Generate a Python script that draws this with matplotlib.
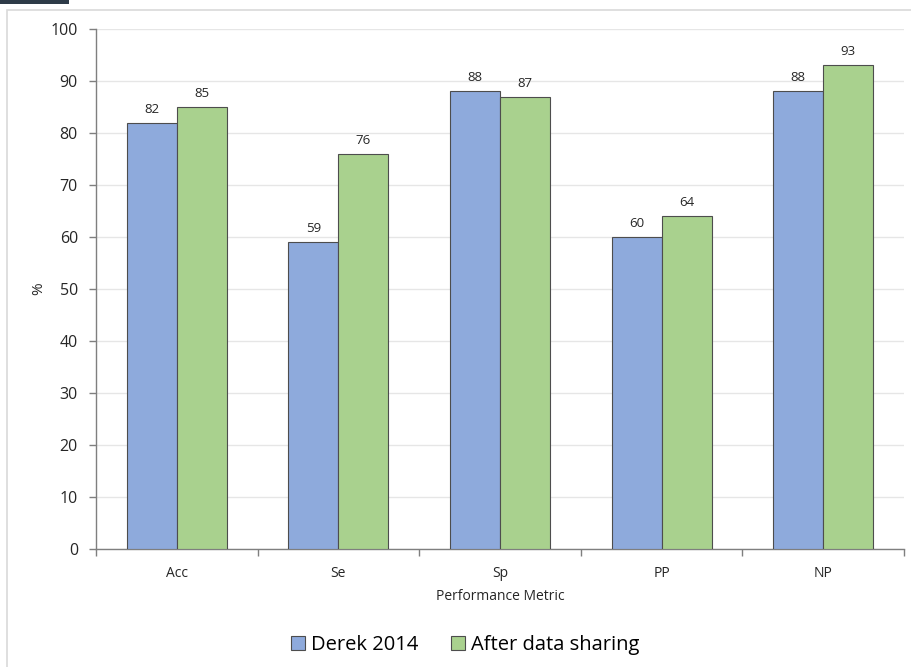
import matplotlib
matplotlib.use("Agg")
import matplotlib.pyplot as plt
from matplotlib.patches import Rectangle
import numpy as np

categories = ["Acc", "Se", "Sp", "PP", "NP"]
derek_2014 = [82, 59, 88, 60, 88]
after_sharing = [85, 76, 87, 64, 93]
series_names = ["Derek 2014", "After data sharing"]

plt.rcParams["font.family"] = ["Open Sans", "DejaVu Sans"]

W, H = 911, 667
fig = plt.figure(figsize=(W / 100, H / 100), dpi=100)

# outer chart frame and the dark tab at the top-left corner
fig.patches.append(Rectangle((7 / W, -0.1), 1.1, 1 - 10 / H + 0.1, transform=fig.transFigure,
                             facecolor="none", edgecolor="#d9d9d9", linewidth=1.2, zorder=-5))
fig.patches.append(Rectangle((0, 1 - 3.5 / H), 69 / W, 3.5 / H, transform=fig.transFigure,
                             facecolor="#2e3b48", edgecolor="none", zorder=-5))

ax = fig.add_axes([96 / W, 1 - 549 / H, (904 - 96) / W, (549 - 29) / H])
ax.set_facecolor("none")
ax.set_zorder(2)

x = np.arange(len(categories))
bw = 0.31
blue = "#8eaadc"
green = "#a9d18e"
b1 = ax.bar(x - bw / 2, derek_2014, bw, color=blue, edgecolor="#4d4d4d", linewidth=0.8,
            label=series_names[0], zorder=3)
b2 = ax.bar(x + bw / 2, after_sharing, bw, color=green, edgecolor="#4d4d4d", linewidth=0.8,
            label=series_names[1], zorder=3)

for bars, vals in ((b1, derek_2014), (b2, after_sharing)):
    for r, v in zip(bars, vals):
        ax.annotate(f"{v}", (r.get_x() + r.get_width() / 2, v), xytext=(0, 5),
                    textcoords="offset points", ha="center", va="bottom",
                    fontsize=9.5, color="#262626")

ax.set_xlim(-0.5, len(categories) - 0.5)
ax.set_ylim(0, 100)
ax.set_yticks(range(0, 101, 10))
ax.yaxis.grid(True, color="#e6e6e6", linewidth=1.0, zorder=0)
ax.set_axisbelow(True)

ax.set_xticks(x)
ax.set_xticklabels(categories)
ax.set_xticks(np.arange(-0.5, len(categories)), minor=True)
ax.tick_params(axis="x", which="major", length=0, pad=12, labelsize=10, labelcolor="#262626")
ax.tick_params(axis="x", which="minor", length=5, width=1, color="#7f7f7f", direction="out")
ax.tick_params(axis="y", length=5, width=1, color="#7f7f7f", labelsize=11.5,
               labelcolor="#262626", pad=8)

for s in ("top", "right"):
    ax.spines[s].set_visible(False)
ax.spines["left"].set_color("#7f7f7f")
ax.spines["bottom"].set_color("#7f7f7f")
ax.spines["left"].set_linewidth(1)
ax.spines["bottom"].set_linewidth(1)

ax.set_xlabel("Performance Metric", fontsize=10, color="#262626", labelpad=6)
ax.set_ylabel("%", fontsize=11, color="#262626", labelpad=3)

fig.legend(handles=[b1, b2], labels=series_names, loc="center", bbox_to_anchor=(465 / W, 1 - 645 / H),
           ncol=2, frameon=False, fontsize=14.5, handlelength=0.7, handleheight=0.7,
           handletextpad=0.3, columnspacing=1.6)

fig.savefig("out.png", dpi=100)
